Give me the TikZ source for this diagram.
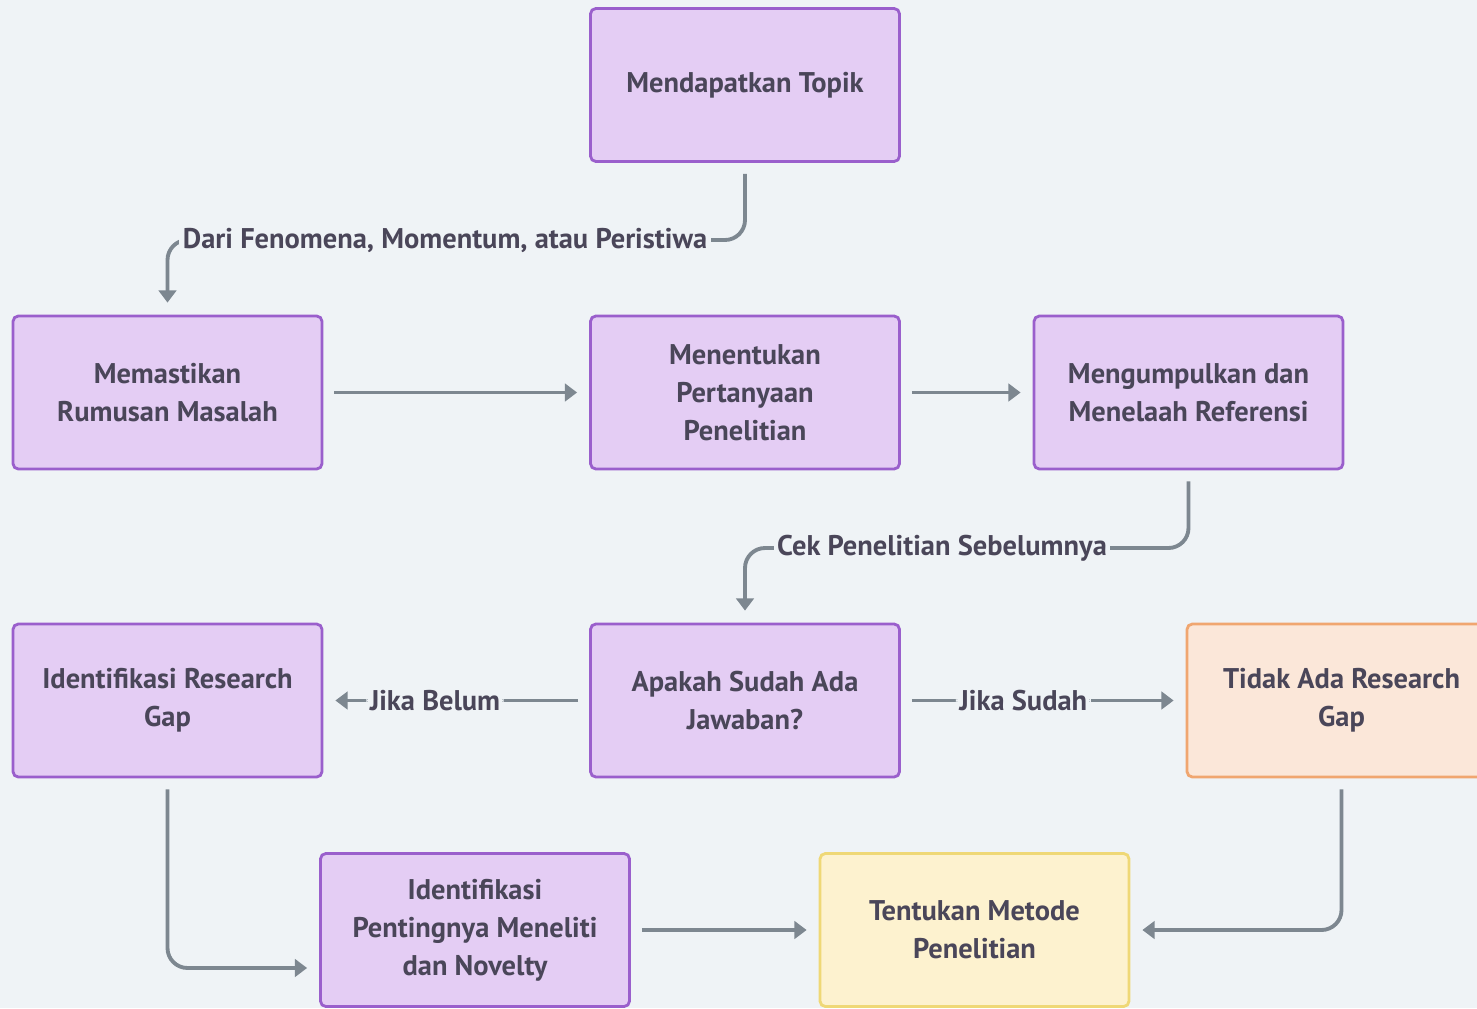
\documentclass[tikz,border=0pt]{standalone}
\usepackage{fontspec}
\setmainfont{PT Sans}
\usetikzlibrary{arrows.meta}

\definecolor{pageBg}{HTML}{EFF3F6}
\definecolor{lilacFill}{HTML}{E4CDF4}
\definecolor{lilacLine}{HTML}{9A5FCC}
\definecolor{peachFill}{HTML}{FBE7D9}
\definecolor{peachLine}{HTML}{F0A670}
\definecolor{creamFill}{HTML}{FDF2CF}
\definecolor{creamLine}{HTML}{EFD876}
\definecolor{arrowGray}{HTML}{7D8790}
\definecolor{inkText}{HTML}{4A4659}

\tikzset{
  baseBox/.style={rectangle, rounded corners=3pt, line width=1.6pt,
    minimum width=6.18cm, minimum height=3.06cm, align=center,
    text=inkText, font=\bfseries\fontsize{16.2}{21.6}\selectfont},
  purpleBox/.style={baseBox, fill=lilacFill, draw=lilacLine},
  orangeBox/.style={baseBox, fill=peachFill, draw=peachLine},
  yellowBox/.style={baseBox, fill=creamFill, draw=creamLine},
  flowArrow/.style={draw=arrowGray, line width=2.2pt, rounded corners=0.4cm,
    -{Triangle[length=7pt,width=10pt]}, shorten <=0.22cm, shorten >=0.24cm},
  edgeText/.style={fill=pageBg, inner sep=2pt, text=inkText,
    font=\bfseries\fontsize{16.2}{18}\selectfont}
}

\begin{document}
\begin{tikzpicture}[x=0.02cm, y=-0.02cm]
  \fill[pageBg] (0,0) rectangle (1477,1008);
  \useasboundingbox (0,0) rectangle (1477,1008);

  % boxes
  \node[purpleBox] (topik) at (745,85) {Mendapatkan Topik};
  \node[purpleBox] (rumusan) at (167.5,392.5) {Memastikan\\Rumusan Masalah};
  \node[purpleBox] (pertanyaan) at (745,392.5) {Menentukan\\Pertanyaan\\Penelitian};
  \node[purpleBox] (referensi) at (1188.5,392.5) {Mengumpulkan dan\\Menelaah Referensi};
  \node[purpleBox] (gapAda) at (167.5,700.5) {Identifikasi Research\\Gap};
  \node[purpleBox] (jawaban) at (745,700.5) {Apakah Sudah Ada\\Jawaban?};
  \node[orangeBox] (gapTidak) at (1341.5,700.5) {Tidak Ada Research\\Gap};
  \node[purpleBox] (novelty) at (475,930) {Identifikasi\\Pentingnya Meneliti\\dan Novelty};
  \node[yellowBox] (metode) at (974.5,930) {Tentukan Metode\\Penelitian};

  \coordinate (bendTopik) at (167.5,240);
  \coordinate (bendRef) at (745,548);

  % connectors
  \draw[flowArrow] (topik.south) |- (bendTopik) -- (rumusan.north);
  \node[edgeText] (labFenomena) at (445,240) {Dari Fenomena, Momentum, atau Peristiwa};

  \draw[flowArrow] (rumusan) -- (pertanyaan);
  \draw[flowArrow] (pertanyaan) -- (referensi);

  \draw[flowArrow] (referensi.south) |- (bendRef) -- (jawaban.north);
  \node[edgeText] (labCek) at (942,548) {Cek Penelitian Sebelumnya};

  \draw[flowArrow] (jawaban) -- node[edgeText, pos=0.58] (labBelum) {Jika Belum} (gapAda);
  \draw[flowArrow] (jawaban) -- node[edgeText, pos=0.43] (labSudah) {Jika Sudah} (gapTidak);

  \draw[flowArrow] (gapAda.south) |- ([yshift=-0.76cm]novelty.west);
  \draw[flowArrow] (novelty) -- (metode);
  \draw[flowArrow] (gapTidak.south) |- (metode.east);

\end{tikzpicture}
\end{document}
